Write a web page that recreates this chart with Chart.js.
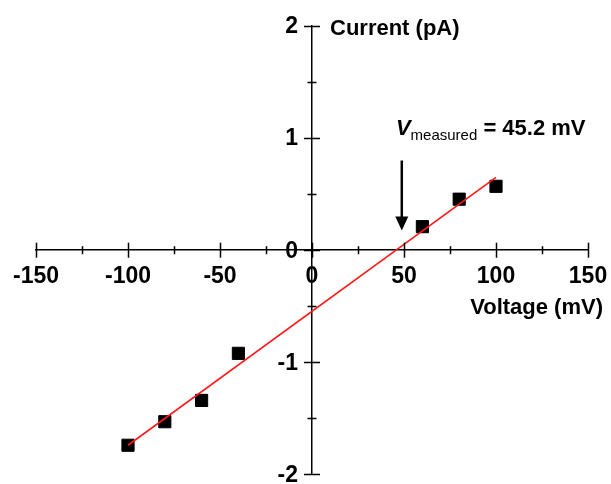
<!DOCTYPE html>
<html>
<head>
<meta charset="utf-8">
<script src="https://cdn.jsdelivr.net/npm/chart.js@4/dist/chart.umd.min.js"></script>
<style>
  html, body { margin: 0; padding: 0; background: #fff; }
  #wrap { width: 611px; height: 484px; }
</style>
</head>
<body>
<div id="wrap"><canvas id="c" width="611" height="484"></canvas></div>
<script>
// ---- data ----
const voltage = [-100, -80, -60, -40, 60, 80, 100];           // mV
const current = [-1.74, -1.53, -1.34, -0.92, 0.21, 0.455, 0.57]; // pA
const fitVoltage = [-100, 100];
const fitCurrent = [-1.74, 0.65];
const xRange = [-150, 150];
const yRange = [-2, 2];
const xMajorStep = 50, xMinorStep = 25;
const yMajorStep = 1, yMinorStep = 0.5;
const xTitle = 'Voltage (mV)';
const yTitle = 'Current (pA)';
const arrowX = [48.8];          // mV
const arrowY = [0.80, 0.175];   // pA (top, tip)
const annotX = [45.6];          // mV (text start)
const annotY = [1.03];          // pA (baseline)
const annotParts = ['V', 'measured', ' = 45.2 mV'];

const FONT = '"Liberation Sans", Arial, Helvetica, sans-serif';

const decor = {
  id: 'decor',
  afterDatasetsDraw(chart) {
    const ctx = chart.ctx;
    const xs = chart.scales.x, ys = chart.scales.y;
    const x0 = xs.getPixelForValue(0), y0 = ys.getPixelForValue(0);
    ctx.save();
    ctx.strokeStyle = '#000';
    ctx.lineWidth = 1.5;
    // x ticks
    for (let v = xRange[0]; v <= xRange[1] + 1e-9; v += xMinorStep) {
      const major = Math.abs(v / xMajorStep - Math.round(v / xMajorStep)) < 1e-9;
      const len = major ? 7.5 : 4;
      const px = Math.round(xs.getPixelForValue(v)) + 0.5;
      ctx.beginPath(); ctx.moveTo(px, y0 - len); ctx.lineTo(px, y0 + len); ctx.stroke();
    }
    // y ticks
    for (let v = yRange[0]; v <= yRange[1] + 1e-9; v += yMinorStep) {
      const major = Math.abs(v / yMajorStep - Math.round(v / yMajorStep)) < 1e-9;
      const len = major ? 8 : 4.5;
      const py = Math.round(ys.getPixelForValue(v)) + 0.5;
      ctx.beginPath(); ctx.moveTo(x0 - len, py); ctx.lineTo(x0 + len, py); ctx.stroke();
    }
    // y tick labels (from the scale's own ticks)
    ctx.fillStyle = '#000';
    ctx.font = 'bold 23px ' + FONT;
    ctx.textAlign = 'right';
    ctx.textBaseline = 'middle';
    ys.ticks.forEach(t => {
      ctx.fillText(String(t.value), x0 - 14, ys.getPixelForValue(t.value) + 1);
    });
    // axis titles
    ctx.textBaseline = 'alphabetic';
    ctx.font = 'bold 22px ' + FONT;
    ctx.textAlign = 'left';
    ctx.fillText(yTitle, x0 + 18, ys.getPixelForValue(yRange[1]) + 9);
    ctx.textAlign = 'right';
    ctx.fillText(xTitle, xs.right + 15, y0 + 64);
    // annotation
    ctx.textAlign = 'left';
    let tx = xs.getPixelForValue(annotX[0]);
    const ty = ys.getPixelForValue(annotY[0]);
    ctx.font = 'italic bold 22px ' + FONT;
    ctx.fillText(annotParts[0], tx, ty);
    tx += ctx.measureText(annotParts[0]).width;
    ctx.font = '15px ' + FONT;
    ctx.fillText(annotParts[1], tx, ty + 5);
    tx += ctx.measureText(annotParts[1]).width;
    ctx.font = 'bold 22px ' + FONT;
    ctx.fillText(annotParts[2], tx, ty);
    // arrow
    const ax = xs.getPixelForValue(arrowX[0]);
    const aTop = ys.getPixelForValue(arrowY[0]);
    const aTip = ys.getPixelForValue(arrowY[1]);
    ctx.lineWidth = 2.5;
    ctx.beginPath(); ctx.moveTo(ax, aTop); ctx.lineTo(ax, aTip - 12); ctx.stroke();
    ctx.beginPath();
    ctx.moveTo(ax - 6.5, aTip - 14);
    ctx.lineTo(ax + 6.5, aTip - 14);
    ctx.lineTo(ax, aTip);
    ctx.closePath();
    ctx.fill();
    ctx.restore();
  }
};

new Chart(document.getElementById('c'), {
  type: 'scatter',
  data: {
    datasets: [
      {
        label: 'fit',
        data: fitVoltage.map((v, i) => ({ x: v, y: fitCurrent[i] })),
        showLine: true,
        borderColor: '#ff1a1a',
        borderWidth: 1.6,
        pointRadius: 0,
        order: 0
      },
      {
        label: 'data',
        data: voltage.map((v, i) => ({ x: v, y: current[i] })),
        pointStyle: 'rect',
        pointRadius: 8.6,
        backgroundColor: '#000',
        borderColor: '#000',
        borderWidth: 1,
        order: 1
      }
    ]
  },
  options: {
    responsive: false,
    animation: false,
    events: [],
    layout: { padding: { left: 36, right: 23, top: 26, bottom: 5 } },
    plugins: { legend: { display: false }, tooltip: { enabled: false } },
    scales: {
      x: {
        type: 'linear',
        position: { y: 0 },
        min: xRange[0], max: xRange[1],
        grid: { display: false, drawTicks: false },
        border: { display: true, color: '#000', width: 1.5 },
        ticks: {
          stepSize: xMajorStep,
          color: '#000',
          padding: 13,
          maxRotation: 0,
          font: { family: FONT, size: 23, weight: 'bold' }
        },
        afterFit(s) { s.paddingLeft = 0; s.paddingRight = 0; }
      },
      y: {
        type: 'linear',
        position: { x: 0 },
        min: yRange[0], max: yRange[1],
        grid: { display: false, drawTicks: false },
        border: { display: true, color: '#000', width: 1.5 },
        ticks: {
          display: false,
          stepSize: yMajorStep
        },
        afterFit(s) { s.paddingTop = 0; s.paddingBottom = 0; }
      }
    }
  },
  plugins: [decor]
});
</script>
</body>
</html>
